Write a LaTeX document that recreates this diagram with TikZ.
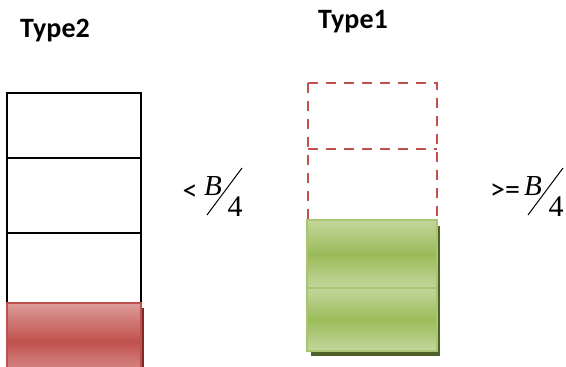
\documentclass[tikz,border=0pt]{standalone}
\usepackage{fontspec}
\usepackage{tikz}
\usetikzlibrary{calc,positioning,shadows}
\newfontfamily\calib{Carlito}
\newfontfamily\timesf{Liberation Serif}
\definecolor{redfill}{HTML}{C0504D}
\definecolor{redlight}{HTML}{DC9C9A}
\definecolor{redshade}{HTML}{7F2A28}
\definecolor{greenfill}{HTML}{9BBB59}
\definecolor{greenlight}{HTML}{C3D69B}
\definecolor{greenshade}{HTML}{4F6228}
\tikzset{
  typelabel/.style={font=\calib\bfseries\fontsize{28}{32}\selectfont, inner sep=0pt},
  cmplabel/.style={font=\calib\fontsize{30}{34}\selectfont, inner sep=0pt},
  fracnum/.style={font=\timesf\itshape\fontsize{29}{32}\selectfont, inner sep=0pt},
  fracden/.style={font=\timesf\fontsize{30}{32}\selectfont, inner sep=0pt},
  slot/.style={draw=black, line width=1.6pt},
  freeslot/.style={draw=redfill, line width=1.8pt, dash pattern=on 10pt off 8pt},
  redblock/.style={draw=redfill, line width=1.5pt, top color=redlight, bottom color=redlight, middle color=redfill},
  greenblock/.style={draw=greenfill!85!white, line width=2pt, top color=greenlight, bottom color=greenlight, middle color=greenfill}
}
\begin{document}
\begin{tikzpicture}[x=1pt,y=-1pt]
			\useasboundingbox (0,0) rectangle (566,367);
			\clip (0,0) rectangle (566,367);

			\node[typelabel] (typetwo) at(55, 31){Type2};
			\node[typelabel] (typeone) at(353, 22){Type1};

			% Type2 column
			\draw[slot] (7,93) rectangle (141,380);
				\draw[slot] (7,158) to (141,158);
				\draw[slot] (7,233) to (141,233);
			\fill[redshade] (137,308) rectangle (144,380);
			\draw[redblock] (7,303) rectangle (141,380);

			% Type1 column
			\draw[freeslot] (308,83) rectangle (437,220);
				\draw[freeslot] (308,149) to (437,149);
			\fill[greenshade] (311,226) rectangle (440,356);
			\draw[greenblock] (307,220) rectangle (437,288);
			\draw[greenblock] (307,288) rectangle (437,351);

			% less than B/4
			\node[cmplabel] (lt) at(190, 193){<};
			\node[fracnum] (ltnum) at(213, 186){B};
			\node[fracden] (ltden) at(235, 207){4};
				\draw[line width=1pt] (207,215) to (242,168);

			% greater or equal B/4
			\node[cmplabel] (ge) at(505, 192){>=};
			\node[fracnum] (genum) at(533, 186){B};
			\node[fracden] (geden) at(556, 207){4};
				\draw[line width=1pt] (528,215) to (563,168);
		\end{tikzpicture}
\end{document}
